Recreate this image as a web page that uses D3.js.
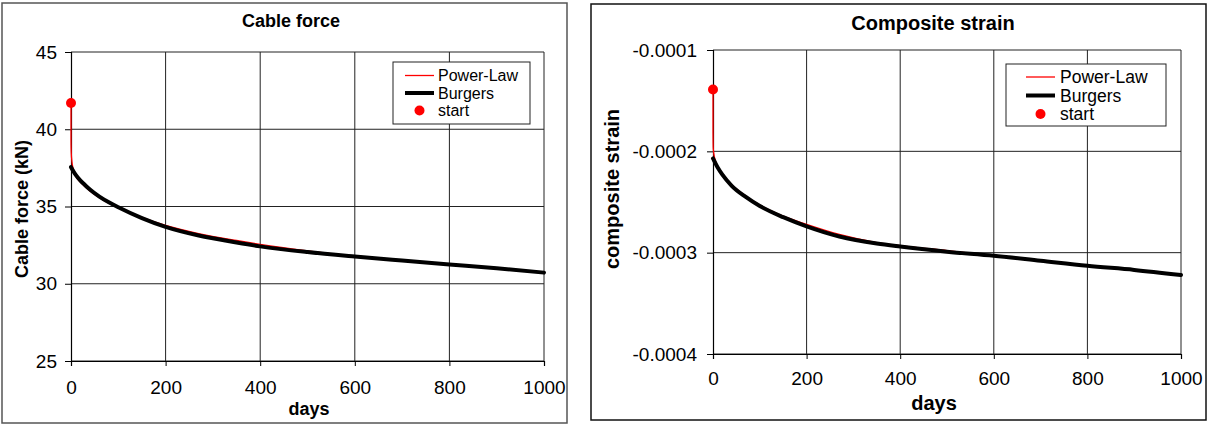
<!DOCTYPE html>
<html><head><meta charset="utf-8">
<script src="https://cdn.jsdelivr.net/npm/d3@7"></script>
<style>
body{margin:0;background:#fff;}
svg{display:block;font-family:"Liberation Sans",Arial,sans-serif;}
</style></head>
<body><svg id="c" width="1211" height="425"></svg>
<script>
// ---------- data ----------
const dayTicks = [0, 200, 400, 600, 800, 1000];
const forceTicks = [25, 30, 35, 40, 45];
const strainTicks = [-0.0004, -0.0003, -0.0002, -0.0001];
const strainTickLabels = ["-0.0004", "-0.0003", "-0.0002", "-0.0001"];

// Cable force (kN)
const forcePLDays = [0, 0.05, 0.5, 2, 5, 10, 20, 40, 70, 100, 150, 200, 270, 350, 400, 500, 600, 700, 800, 900, 1000];
const forcePLVals = [41.7, 39.3, 38.5, 37.9, 37.4, 36.98, 36.58, 36.0, 35.38, 34.95, 34.3, 33.78, 33.25, 32.8, 32.55, 32.13, 31.78, 31.5, 31.25, 31.0, 30.75];
const forceBGDays = [0, 10, 20, 30, 40, 60, 80, 100, 150, 200, 270, 350, 400, 500, 600, 700, 800, 900, 1000];
const forceBGVals = [37.55, 37.05, 36.68, 36.38, 36.1, 35.64, 35.27, 34.95, 34.25, 33.68, 33.12, 32.67, 32.42, 32.05, 31.76, 31.5, 31.25, 31.0, 30.72];
const forceStart = [0, 41.7];

// Composite strain
const strainPLDays = [0, 0.05, 0.5, 2, 5, 10, 20, 40, 70, 100, 150, 200, 270, 350, 400, 500, 600, 700, 800, 900, 1000];
const strainPLVals = [-0.000139, -0.000182, -0.000197, -0.000203, -0.000209, -0.000215, -0.000222, -0.000233, -0.000244, -0.000253, -0.000264, -0.000272, -0.000282, -0.00029, -0.000293, -0.000298, -0.000303, -0.000308, -0.000313, -0.000317, -0.000322];
const strainBGDays = [0, 10, 20, 40, 70, 100, 150, 200, 270, 350, 400, 500, 600, 700, 800, 900, 1000];
const strainBGVals = [-0.000207, -0.000216, -0.000223, -0.000234, -0.000245, -0.000254, -0.000265, -0.000274, -0.000284, -0.000291, -0.000294, -0.000299, -0.000303, -0.000308, -0.000313, -0.000317, -0.000322];
const strainStart = [0, -0.000139];

// ---------- drawing ----------
const svg = d3.select("#c");

function panel(cfg) {
  const g = svg.append("g");
  g.append("rect").attr("x", cfg.frame[0]).attr("y", cfg.frame[1])
    .attr("width", cfg.frame[2]).attr("height", cfg.frame[3])
    .attr("fill", "#fff").attr("stroke", cfg.frameColor).attr("stroke-width", 1.5);

  const x = d3.scaleLinear().domain([0, 1000]).range([cfg.plot[0], cfg.plot[1]]);
  const y = d3.scaleLinear().domain(cfg.yDomain).range([cfg.plot[3], cfg.plot[2]]);

  g.append("g").selectAll("line").data(dayTicks.slice(1)).join("line")
    .attr("x1", d => x(d)).attr("x2", d => x(d))
    .attr("y1", cfg.plot[2]).attr("y2", cfg.plot[3])
    .attr("stroke", "#222").attr("stroke-width", 1);
  g.append("g").selectAll("line").data(cfg.yTicks).join("line")
    .attr("x1", cfg.plot[0]).attr("x2", cfg.plot[1])
    .attr("y1", d => y(d)).attr("y2", d => y(d))
    .attr("stroke", "#222").attr("stroke-width", 1);

  const xa = g.append("g").attr("transform", `translate(0,${cfg.plot[3]})`)
    .call(d3.axisBottom(x).tickValues(dayTicks).tickSize(5).tickPadding(cfg.xPad).tickFormat(d3.format("d")));
  const ya = g.append("g").attr("transform", `translate(${cfg.plot[0]},0)`)
    .call(d3.axisLeft(y).tickValues(cfg.yTicks).tickSize(6).tickPadding(cfg.yPad).tickFormat((d, i) => cfg.yLabels[i]));
  [xa, ya].forEach(a => {
    a.select(".domain").attr("stroke", "#000").attr("stroke-width", 1.2);
    a.selectAll(".tick line").attr("stroke", "#000");
    a.selectAll("text").attr("font-size", cfg.tickFs).attr("fill", "#000")
      .attr("font-family", "Liberation Sans, Arial, sans-serif");
  });

  g.append("text").attr("x", cfg.titlePos[0]).attr("y", cfg.titlePos[1])
    .attr("text-anchor", "middle").attr("font-weight", "bold").attr("font-size", cfg.labelFs)
    .text(cfg.title);
  g.append("text").attr("x", cfg.xLabelPos[0]).attr("y", cfg.xLabelPos[1])
    .attr("text-anchor", "middle").attr("font-weight", "bold").attr("font-size", cfg.labelFs)
    .text("days");
  g.append("text")
    .attr("transform", `translate(${cfg.yLabelPos[0]},${cfg.yLabelPos[1]}) rotate(-90)`)
    .attr("text-anchor", "middle").attr("font-weight", "bold").attr("font-size", cfg.labelFs)
    .text(cfg.yLabel);

  const line = d3.line().x(d => x(d[0])).y(d => y(d[1])).curve(d3.curveMonotoneX);
  const pl = cfg.plDays.map((d, i) => [d, cfg.plVals[i]]);
  const bg = cfg.bgDays.map((d, i) => [d, cfg.bgVals[i]]);
  g.append("path").datum(pl).attr("d", line).attr("fill", "none")
    .attr("stroke", "#ff0000").attr("stroke-width", 1.3);
  g.append("path").datum(bg).attr("d", line).attr("fill", "none")
    .attr("stroke", "#000").attr("stroke-width", 4).attr("stroke-linecap", "round");
  g.append("circle").attr("cx", x(cfg.start[0])).attr("cy", y(cfg.start[1]))
    .attr("r", 5).attr("fill", "#ff0000");

  const L = cfg.legend;
  g.append("rect").attr("x", L.box[0]).attr("y", L.box[1]).attr("width", L.box[2]).attr("height", L.box[3])
    .attr("fill", "#fff").attr("stroke", "#222").attr("stroke-width", 1);
  const items = [["Power-Law", "pl"], ["Burgers", "bg"], ["start", "st"]];
  items.forEach((it, i) => {
    const yy = L.rows[i];
    if (it[1] === "pl") {
      g.append("line").attr("x1", L.line[0]).attr("x2", L.line[1]).attr("y1", yy).attr("y2", yy)
        .attr("stroke", "#ff0000").attr("stroke-width", 1.3);
    } else if (it[1] === "bg") {
      g.append("line").attr("x1", L.line[0]).attr("x2", L.line[1]).attr("y1", yy).attr("y2", yy)
        .attr("stroke", "#000").attr("stroke-width", 4);
    } else {
      g.append("circle").attr("cx", (L.line[0] + L.line[1]) / 2).attr("cy", yy).attr("r", 5).attr("fill", "#ff0000");
    }
    g.append("text").attr("x", L.textX).attr("y", yy).attr("dy", "0.35em")
      .attr("font-size", L.fs).text(it[0]);
  });
}

panel({
  frame: [2, 3, 565, 420], frameColor: "#555",
  plot: [71, 544, 52, 361],
  yDomain: [25, 45], yTicks: forceTicks, yLabels: forceTicks.map(String),
  xPad: 15, yPad: 8, tickFs: 19, labelFs: 18,
  title: "Cable force", titlePos: [291, 27],
  xLabelPos: [309, 415], yLabel: "Cable force (kN)", yLabelPos: [28, 209],
  plDays: forcePLDays, plVals: forcePLVals, bgDays: forceBGDays, bgVals: forceBGVals, start: forceStart,
  legend: { box: [393, 62, 137, 62], line: [405, 434], rows: [75.5, 93, 110.5], textX: 438, fs: 16 }
});

panel({
  frame: [591, 4, 615, 416], frameColor: "#111",
  plot: [713, 1181, 50, 354],
  yDomain: [-0.0004, -0.0001], yTicks: strainTicks, yLabels: strainTickLabels,
  xPad: 13, yPad: 10, tickFs: 19, labelFs: 20,
  title: "Composite strain", titlePos: [933, 30],
  xLabelPos: [934, 410], yLabel: "composite strain", yLabelPos: [619, 189],
  plDays: strainPLDays, plVals: strainPLVals, bgDays: strainBGDays, bgVals: strainBGVals, start: strainStart,
  legend: { box: [1006, 64, 160, 62], line: [1026, 1055], rows: [77, 95.5, 114], textX: 1060, fs: 17.5 }
});
</script></body></html>
